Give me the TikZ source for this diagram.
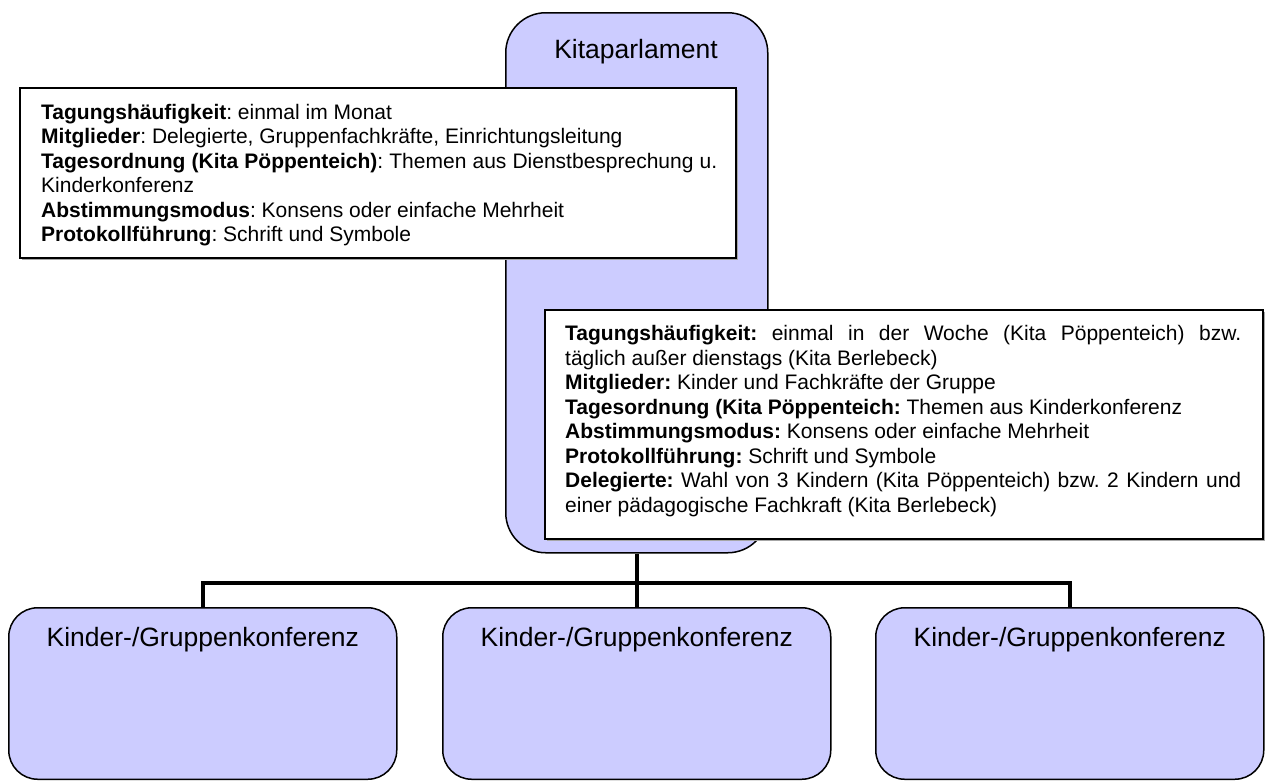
\documentclass[tikz,border=0pt]{standalone}
\usepackage{fontspec}
\setmainfont{Liberation Sans}
\usetikzlibrary{shadows}
\definecolor{lav}{HTML}{CCCCFF}
\begin{document}
\begin{tikzpicture}[x=1pt,y=-1pt,
  purplebox/.style={draw=black, line width=1.5pt, fill=lav, inner sep=0pt, anchor=north west},
  whitebox/.style={draw=black, line width=1.5pt, fill=white, inner sep=0pt, anchor=north west,
     drop shadow={shadow xshift=2pt, shadow yshift=-2pt, fill=gray!70, opacity=1}},
  bigtext/.style={inner sep=0pt, anchor=base, font=\fontsize{26.5}{30}\selectfont},
  infotext/.style={inner sep=0pt, anchor=base west},
  conn/.style={line width=4.5pt, line join=miter, line cap=rect}]
\useasboundingbox (0,0) rectangle (1265,780);

% top box
\node[purplebox, rounded corners=40pt, minimum width=262pt, minimum height=540pt] (kp) at (505,12) {};
\node[bigtext] (kptext) at (636,58) {Kitaparlament};

% connectors
\coordinate (bar) at (636,583);
\node[purplebox, rounded corners=29pt, minimum width=388pt, minimum height=171.5pt] (k1) at (8,607) {};
\node[purplebox, rounded corners=29pt, minimum width=388pt, minimum height=171.5pt] (k2) at (442,607) {};
\node[purplebox, rounded corners=29pt, minimum width=388pt, minimum height=171.5pt] (k3) at (875,607) {};
\draw[conn, line cap=butt] (kp.south) -- (k2.north);
\draw[conn, line cap=butt] (k1.north) |- (bar) -| (k3.north);

\node[bigtext] (k1text) at (k1.north |- 0,646) {Kinder-/Gruppenkonferenz};
\node[bigtext] (k2text) at (k2.north |- 0,646) {Kinder-/Gruppenkonferenz};
\node[bigtext] (k3text) at (k3.north |- 0,646) {Kinder-/Gruppenkonferenz};

% left info box
\node[whitebox, minimum width=716pt, minimum height=170pt] (info1) at (19,87) {};
\node[infotext] (info1text) at (41,119) {\parbox[t]{676pt}{\fontsize{21}{24.5}\selectfont\frenchspacing
\textbf{Tagungshäufigkeit}: einmal im Monat\\
\textbf{Mitglieder}: Delegierte, Gruppenfachkräfte, Einrichtungsleitung\\
\makebox[\linewidth][s]{\textbf{Tagesordnung (Kita Pöppenteich)}: Themen aus Dienstbesprechung u.}\\
Kinderkonferenz\\
\textbf{Abstimmungsmodus}: Konsens oder einfache Mehrheit\\
\textbf{Protokollführung}: Schrift und Symbole}};

% right info box
\node[whitebox, minimum width=718pt, minimum height=229pt] (info2) at (544,309) {};
\node[infotext] (info2text) at (565,340.5) {\parbox[t]{676pt}{\fontsize{21}{24.5}\selectfont\frenchspacing
\makebox[\linewidth][s]{\textbf{Tagungshäufigkeit:} einmal in der Woche (Kita Pöppenteich) bzw.}\\
täglich außer dienstags (Kita Berlebeck)\\
\textbf{Mitglieder:} Kinder und Fachkräfte der Gruppe\\
\textbf{Tagesordnung (Kita Pöppenteich:} Themen aus Kinderkonferenz\\
\textbf{Abstimmungsmodus:} Konsens oder einfache Mehrheit\\
\textbf{Protokollführung:} Schrift und Symbole\\
\makebox[\linewidth][s]{\textbf{Delegierte:} Wahl von 3 Kindern (Kita Pöppenteich) bzw. 2 Kindern und}\\
einer pädagogische Fachkraft (Kita Berlebeck)}};
\end{tikzpicture}
\end{document}
